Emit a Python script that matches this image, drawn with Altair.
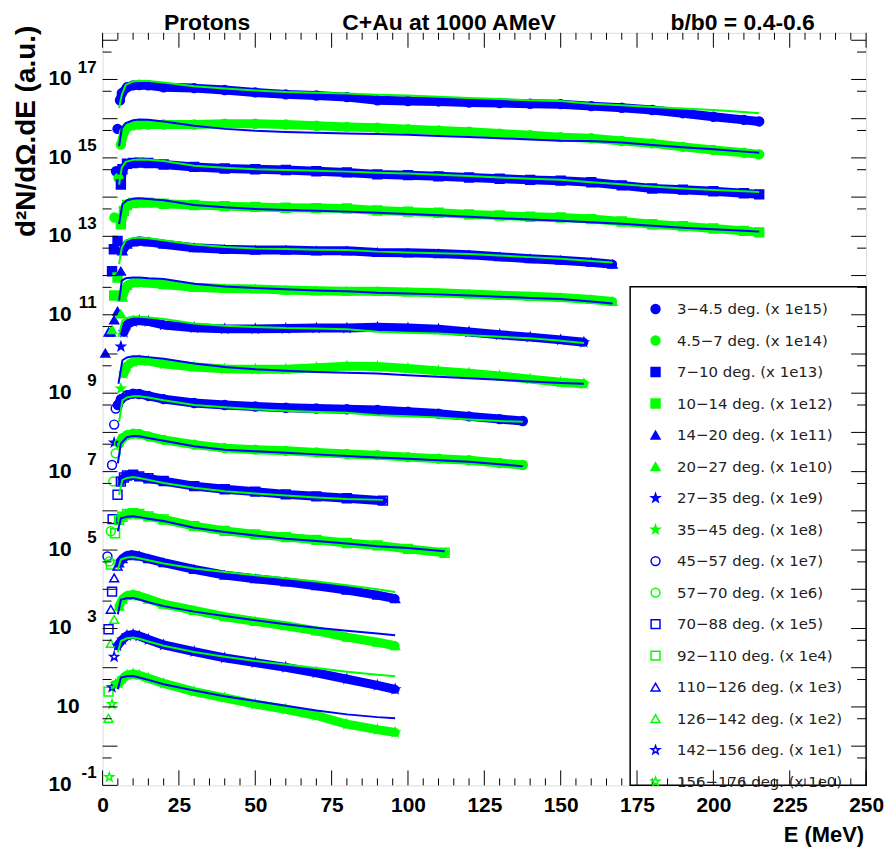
import altair as alt
import pandas as pd

LABELS = ["3−4.5 deg. (x 1e15)", "4.5−7 deg. (x 1e14)", "7−10 deg. (x 1e13)", "10−14 deg. (x 1e12)",
          "14−20 deg. (x 1e11)", "20−27 deg. (x 1e10)", "27−35 deg. (x 1e9)", "35−45 deg. (x 1e8)",
          "45−57 deg. (x 1e7)", "57−70 deg. (x 1e6)", "70−88 deg. (x 1e5)", "92−110 deg. (x 1e4)",
          "110−126 deg. (x 1e3)", "126−142 deg. (x 1e2)", "142−156 deg. (x 1e1)", "156−176 deg. (x 1e0)"]
BLUE = "#0000ff"
GREEN = "#00ff00"
STAR = ("M0,-1L0.235,-0.324L0.951,-0.309L0.38,0.124L0.588,0.809L0,0.4"
        "L-0.588,0.809L-0.38,0.124L-0.951,-0.309L-0.235,-0.324Z")
SHAPES = ["circle", "circle", "square", "square", "triangle-up", "triangle-up", STAR, STAR] * 2
COLORS = [BLUE, GREEN] * 8
FILLS = COLORS[:8] + ["transparent"] * 8

# ---- data (log10 of the scaled yield) ----
G_LONG = [10, 12, 15, 20, 30, 40, 50, 60, 70, 80, 90, 100, 110, 120, 130, 140, 150, 160, 170, 180, 190, 200, 210, 215]

S1_LOW_E = [4.4, 4.9]
S1_LOW_L = [14.66, 15.74]
S1_E = [5.7, 6.3, 8] + G_LONG
S1_L = [16.47, 16.65, 16.80, 16.85, 16.86, 16.85, 16.80, 16.78, 16.73, 16.67, 16.62, 16.59, 16.55, 16.47, 16.45,
        16.44, 16.41, 16.40, 16.38, 16.37, 16.32, 16.28, 16.22, 16.14, 16.05, 15.97, 15.93]
S1_ME = [5.4, 6.3, 7.6] + G_LONG
S1_ML = [16.27, 16.61, 16.86, 16.95, 16.97, 16.96, 16.92, 16.83, 16.77, 16.72, 16.68, 16.66, 16.64, 16.61, 16.59,
         16.56, 16.53, 16.50, 16.47, 16.45, 16.38, 16.34, 16.30, 16.26, 16.22, 16.17, 16.14]

S2_LOW_E = [3.9, 5.2]
S2_LOW_L = [13.48, 14.49]
S2_E = [6.0, 7, 8] + G_LONG
S2_L = [15.34, 15.65, 15.78, 15.83, 15.85, 15.85, 15.85, 15.85, 15.87, 15.87, 15.85, 15.82, 15.79, 15.77, 15.73,
        15.70, 15.67, 15.62, 15.58, 15.53, 15.50, 15.43, 15.37, 15.28, 15.20, 15.13, 15.09]
S2_ME = [5.4, 6.3, 7.6] + G_LONG
S2_ML = [15.30, 15.76, 15.89, 15.96, 15.98, 15.97, 15.93, 15.82, 15.74, 15.69, 15.66, 15.64, 15.62, 15.61, 15.59,
         15.56, 15.53, 15.50, 15.47, 15.44, 15.43, 15.39, 15.33, 15.27, 15.22, 15.16, 15.13]

S3_LOW_E = [3.1, 3.7, 4.9]
S3_LOW_L = [12.11, 12.67, 12.88]
S3_E = [6.0, 6.5, 8] + G_LONG
S3_L = [14.32, 14.71, 14.85, 14.87, 14.88, 14.87, 14.83, 14.77, 14.73, 14.71, 14.69, 14.66, 14.63, 14.58, 14.56,
        14.53, 14.50, 14.47, 14.44, 14.42, 14.38, 14.30, 14.22, 14.19, 14.15, 14.10, 14.07]
S3_ME = [5.4, 6.3, 7.6] + G_LONG
S3_ML = [14.32, 14.75, 14.90, 14.95, 14.96, 14.95, 14.92, 14.80, 14.75, 14.71, 14.69, 14.67, 14.65, 14.62, 14.60,
         14.57, 14.54, 14.50, 14.47, 14.44, 14.38, 14.33, 14.27, 14.22, 14.18, 14.15, 14.13]

S4_LOW_E = [3.8, 4.9]
S4_LOW_L = [11.49, 11.95]
S4_E = [6.0, 7, 8] + G_LONG
S4_L = [13.31, 13.65, 13.80, 13.85, 13.86, 13.86, 13.83, 13.80, 13.77, 13.75, 13.73, 13.72, 13.71, 13.66, 13.63,
        13.60, 13.56, 13.53, 13.50, 13.48, 13.44, 13.38, 13.31, 13.26, 13.20, 13.14, 13.10]
S4_ME = [5.4, 6.5, 8] + G_LONG
S4_ML = [13.31, 13.82, 13.92, 13.96, 13.97, 13.95, 13.92, 13.80, 13.74, 13.70, 13.67, 13.65, 13.63, 13.60, 13.57,
         13.54, 13.50, 13.46, 13.43, 13.40, 13.36, 13.32, 13.27, 13.22, 13.18, 13.14, 13.12]

G_MID = [10, 12, 15, 20, 30, 40, 50, 60, 70, 80, 90, 100, 110, 120, 130, 140, 150, 160, 167]

S5_LOW_E = [0.9, 2.0, 2.7, 3.8, 4.9, 6.0]
S5_LOW_L = [10.02, 10.56, 10.56, 10.87, 11.09, 12.11]
S5_E = [6.5, 8] + G_MID
S5_L = [12.63, 12.80, 12.86, 12.88, 12.86, 12.80, 12.71, 12.67, 12.65, 12.65, 12.63, 12.63, 12.59, 12.58, 12.56,
        12.53, 12.48, 12.43, 12.39, 12.34, 12.29]
S5_ME = [5.4, 6.3, 7.6] + G_MID
S5_ML = [12.29, 12.71, 12.90, 12.96, 12.97, 12.95, 12.90, 12.79, 12.73, 12.69, 12.68, 12.66, 12.65, 12.61, 12.59,
         12.57, 12.55, 12.51, 12.47, 12.43, 12.37, 12.33]

S6_LOW_E = [3.1, 6.0]
S6_LOW_L = [10.62, 11.02]
S6_E = [6.5, 8] + G_MID
S6_L = [11.45, 11.75, 11.82, 11.83, 11.81, 11.77, 11.70, 11.67, 11.66, 11.63, 11.61, 11.60, 11.60, 11.58, 11.56,
        11.53, 11.50, 11.47, 11.44, 11.39, 11.34]
S6_ME = [5.4, 6.3, 7.6] + G_MID
S6_ML = [11.36, 11.87, 11.93, 11.95, 11.95, 11.93, 11.91, 11.79, 11.72, 11.68, 11.65, 11.62, 11.60, 11.56, 11.54,
         11.52, 11.49, 11.46, 11.43, 11.40, 11.34, 11.29]

G_157 = [10, 12, 15, 20, 30, 40, 50, 60, 70, 80, 90, 100, 110, 120, 130, 140, 150, 157.6]

S7_LOW_E = [3.8, 6.0]
S7_LOW_L = [7.74, 10.19]
S7_E = [7, 8] + G_157
S7_L = [10.55, 10.75, 10.83, 10.85, 10.83, 10.74, 10.67, 10.64, 10.64, 10.65, 10.66, 10.66, 10.68, 10.66, 10.63,
        10.56, 10.49, 10.43, 10.36, 10.30]
S7_ME = [5.2, 6.5, 8] + G_157
S7_ML = [10.43, 10.85, 10.92, 10.95, 10.95, 10.93, 10.89, 10.78, 10.72, 10.69, 10.66, 10.65, 10.63, 10.57, 10.54,
         10.52, 10.48, 10.44, 10.40, 10.34, 10.28]

S8_LOW_E = [6.0]
S8_LOW_L = [9.12]
S8_E = [7, 8] + G_157
S8_L = [9.50, 9.70, 9.80, 9.84, 9.82, 9.75, 9.67, 9.62, 9.61, 9.61, 9.65, 9.69, 9.68, 9.63, 9.57, 9.51, 9.44,
        9.36, 9.28, 9.24]
S8_ME = [5.2, 6.5, 8] + G_157
S8_ML = [9.24, 9.84, 9.91, 9.94, 9.94, 9.92, 9.88, 9.76, 9.67, 9.61, 9.57, 9.54, 9.52, 9.50, 9.46, 9.42, 9.38,
         9.34, 9.30, 9.26, 9.24]

G_137 = [10, 12, 15, 20, 30, 40, 50, 60, 70, 80, 90, 100, 110, 120, 130, 137.6]

S9_LOW_E = [1.6, 3.1, 3.8, 4.3]
S9_LOW_L = [4.84, 7.17, 8.20, 8.61]
S9_E = [5, 6, 8] + G_137
S9_L = [8.70, 8.85, 8.95, 8.99, 8.98, 8.93, 8.85, 8.75, 8.70, 8.66, 8.63, 8.61, 8.59, 8.57, 8.53, 8.48, 8.41,
        8.34, 8.29]
S9_ME = [5.4, 6.5, 8] + G_137
S9_ML = [8.27, 8.82, 8.89, 8.92, 8.92, 8.89, 8.82, 8.70, 8.64, 8.59, 8.55, 8.52, 8.50, 8.44, 8.41, 8.38, 8.33,
         8.29, 8.27]

S10_LOW_E = [2.2, 2.7, 3.5, 4.3]
S10_LOW_L = [4.71, 5.48, 6.75, 7.47]
S10_E = [5.4, 6.5, 8] + G_137
S10_L = [7.72, 7.85, 7.93, 7.97, 7.96, 7.90, 7.81, 7.69, 7.60, 7.56, 7.53, 7.49, 7.45, 7.42, 7.37, 7.33, 7.29,
         7.22, 7.17]
S10_ME = [5.0, 6.0, 8] + G_137
S10_ML = [7.21, 7.72, 7.88, 7.91, 7.90, 7.86, 7.79, 7.65, 7.56, 7.52, 7.48, 7.44, 7.40, 7.36, 7.33, 7.29, 7.25,
          7.19, 7.14]

S11_LOW_E = [1.95, 3.1, 3.3, 4.9]
S11_LOW_L = [2.98, 3.94, 5.79, 6.41]
S11_E = [6.0, 7, 8, 10, 12, 15, 20, 30, 40, 50, 60, 70, 80, 91.8]
S11_L = [6.75, 6.85, 6.90, 6.92, 6.88, 6.83, 6.76, 6.63, 6.55, 6.49, 6.42, 6.37, 6.32, 6.26]
S11_ME = [5.4, 6.5, 8, 10, 12, 15, 20, 30, 40, 50, 60, 70, 80, 91.8]
S11_ML = [6.41, 6.79, 6.84, 6.86, 6.84, 6.79, 6.71, 6.59, 6.50, 6.44, 6.39, 6.34, 6.30, 6.28]

S12_LOW_E = [1.95, 2.7, 4.1]
S12_LOW_L = [1.39, 4.63, 5.43]
S12_E = [5.4, 6.5, 8, 10, 12, 15, 20, 30, 40, 50, 60, 70, 80, 90, 100, 112]
S12_L = [5.77, 5.85, 5.92, 5.94, 5.92, 5.86, 5.78, 5.61, 5.49, 5.40, 5.33, 5.26, 5.18, 5.12, 5.03, 4.93]
S12_ME = [5.0, 6.0, 8, 10, 12, 15, 20, 30, 40, 50, 60, 70, 80, 90, 100, 112]
S12_ML = [5.48, 5.81, 5.85, 5.86, 5.84, 5.80, 5.74, 5.57, 5.46, 5.37, 5.29, 5.23, 5.17, 5.10, 5.05, 4.97]

G_96 = [10, 12, 15, 20, 30, 40, 50, 60, 70, 80, 90, 95.8]

S13_LOW_E = [2.7, 3.8, 4.9]
S13_LOW_L = [3.49, 4.29, 4.59]
S13_E = [5.4, 6.5, 8, 9.5, 12, 15, 20, 30, 40, 50, 60, 70, 80, 90, 95.8]
S13_L = [4.67, 4.78, 4.86, 4.88, 4.85, 4.78, 4.68, 4.51, 4.36, 4.27, 4.19, 4.09, 3.98, 3.85, 3.76]
S13_ME = [5.0, 6.0, 8] + G_96
S13_ML = [4.50, 4.76, 4.81, 4.82, 4.79, 4.74, 4.66, 4.53, 4.44, 4.36, 4.28, 4.20, 4.10, 4.00, 3.93]

S14_LOW_E = [1.95, 2.7, 3.8]
S14_LOW_L = [0.71, 2.62, 3.23]
S14_E = [5.4, 6.5, 8] + G_96
S14_L = [3.57, 3.75, 3.84, 3.87, 3.83, 3.75, 3.62, 3.46, 3.30, 3.18, 3.07, 2.94, 2.78, 2.65, 2.56]
S14_ME = [5.0, 6.0, 8] + G_96
S14_ML = [3.36, 3.74, 3.77, 3.78, 3.74, 3.67, 3.57, 3.43, 3.32, 3.21, 3.11, 3.02, 2.94, 2.87, 2.83]

S15_LOW_E = [3.1, 3.8]
S15_LOW_L = [1.50, 2.28]
S15_E = [4.9, 6.5, 8] + G_96
S15_L = [2.56, 2.72, 2.82, 2.85, 2.81, 2.72, 2.58, 2.41, 2.25, 2.13, 2.01, 1.87, 1.71, 1.55, 1.45]
S15_ME = [5.0, 6.0, 8] + G_96
S15_ML = [2.39, 2.68, 2.75, 2.77, 2.74, 2.67, 2.56, 2.40, 2.28, 2.17, 2.08, 1.99, 1.90, 1.82, 1.78]

S16_LOW_E = [2.2, 3.1]
S16_LOW_L = [-0.79, 1.07]
S16_E = [4.3, 5.4, 6.5, 8] + G_96
S16_L = [1.58, 1.60, 1.72, 1.81, 1.84, 1.81, 1.73, 1.60, 1.39, 1.23, 1.07, 0.94, 0.78, 0.56, 0.42, 0.35]
S16_ME = [5.0, 6.0, 8] + G_96
S16_ML = [1.45, 1.75, 1.78, 1.79, 1.75, 1.69, 1.58, 1.42, 1.27, 1.15, 1.03, 0.91, 0.81, 0.74, 0.71]

SERIES = [
    (S1_LOW_E, S1_LOW_L, S1_E, S1_L, S1_ME, S1_ML),
    (S2_LOW_E, S2_LOW_L, S2_E, S2_L, S2_ME, S2_ML),
    (S3_LOW_E, S3_LOW_L, S3_E, S3_L, S3_ME, S3_ML),
    (S4_LOW_E, S4_LOW_L, S4_E, S4_L, S4_ME, S4_ML),
    (S5_LOW_E, S5_LOW_L, S5_E, S5_L, S5_ME, S5_ML),
    (S6_LOW_E, S6_LOW_L, S6_E, S6_L, S6_ME, S6_ML),
    (S7_LOW_E, S7_LOW_L, S7_E, S7_L, S7_ME, S7_ML),
    (S8_LOW_E, S8_LOW_L, S8_E, S8_L, S8_ME, S8_ML),
    (S9_LOW_E, S9_LOW_L, S9_E, S9_L, S9_ME, S9_ML),
    (S10_LOW_E, S10_LOW_L, S10_E, S10_L, S10_ME, S10_ML),
    (S11_LOW_E, S11_LOW_L, S11_E, S11_L, S11_ME, S11_ML),
    (S12_LOW_E, S12_LOW_L, S12_E, S12_L, S12_ME, S12_ML),
    (S13_LOW_E, S13_LOW_L, S13_E, S13_L, S13_ME, S13_ML),
    (S14_LOW_E, S14_LOW_L, S14_E, S14_L, S14_ME, S14_ML),
    (S15_LOW_E, S15_LOW_L, S15_E, S15_L, S15_ME, S15_ML),
    (S16_LOW_E, S16_LOW_L, S16_E, S16_L, S16_ME, S16_ML),
]

# axis decorations
X_MAJOR = [0, 25, 50, 75, 100, 125, 150, 175, 200, 225, 250]
X_MINOR = [v for v in range(0, 251, 5) if v % 25 != 0]
Y_MAJOR = [10.0 ** k for k in range(-1, 19)]
Y_MINOR = [5 * 10.0 ** k for k in range(-1, 18)]
Y_LABEL_EXP = [-1, 3, 5, 7, 9, 11, 13, 15, 17]

# ---- tables ----
pts, band, model = [], [], []
for i, (le, ll, e, l, me, ml) in enumerate(SERIES):
    lab = LABELS[i]
    col = COLORS[i]
    other = GREEN if col == BLUE else BLUE
    for a, b in zip(le, ll):
        pts.append({"label": lab, "E": a, "Y": 10 ** b})
    for a, b in zip(e, l):
        pts.append({"label": lab, "E": a, "Y": 10 ** b})
        band.append({"label": lab, "col": col, "E": a, "Y": 10 ** b})
    for a, b in zip(me, ml):
        model.append({"label": lab, "col": other, "E": a, "Y": 10 ** b})
pts_df = pd.DataFrame(pts)
band_df = pd.DataFrame(band)
model_df = pd.DataFrame(model)

W, H = 767, 756
FONT = "Liberation Sans"
xscale = alt.Scale(domain=[0, 250], nice=False, zero=False)
yscale = alt.Scale(type="log", domain=[0.1, 10 ** 18.19], nice=False)
xaxis = alt.Axis(values=X_MAJOR, ticks=False, domain=False, grid=False, labelFont=FONT,
                 labelFontSize=21, labelFontWeight="bold", labelColor="black", labelPadding=9,
                 labelFlush=False, title=None)
X = alt.X("E:Q", scale=xscale, axis=xaxis)
Y = alt.Y("Y:Q", scale=yscale, axis=None)

leg = alt.Legend(orient="none", legendX=548, legendY=270, title=None, labelFont="DejaVu Sans",
                 labelFontSize=15, labelColor="#222222", rowPadding=15.65, padding=0, symbolSize=80,
                 symbolStrokeWidth=1.5, labelOffset=14, labelLimit=400)

band_layer = alt.Chart(band_df).mark_line(strokeWidth=9, strokeCap="round", strokeJoin="round").encode(
    x=X, y=Y, color=alt.Color("col:N", scale=None), detail="label:N")

point_layer = alt.Chart(pts_df).mark_point(size=80, strokeWidth=1.5, opacity=1).encode(
    x=X, y=Y,
    shape=alt.Shape("label:N", scale=alt.Scale(domain=LABELS, range=SHAPES), legend=leg),
    stroke=alt.Stroke("label:N", scale=alt.Scale(domain=LABELS, range=COLORS), legend=leg),
    fill=alt.Fill("label:N", scale=alt.Scale(domain=LABELS, range=FILLS), legend=leg),
)

model_layer = alt.Chart(model_df).mark_line(strokeWidth=2).encode(
    x=X, y=Y, color=alt.Color("col:N", scale=None), detail="label:N")

one = pd.DataFrame({"a": [0]})
legend_box = alt.Chart(one).mark_rect(fill="white", stroke="black", strokeWidth=1.5).encode(
    x=alt.value(530), x2=alt.value(W), y=alt.value(255), y2=alt.value(H))

TICK = dict(color="black", strokeWidth=1)
ymaj = pd.DataFrame({"Y": Y_MAJOR})
ymin = pd.DataFrame({"Y": Y_MINOR})
xmaj = pd.DataFrame({"E": X_MAJOR})
xmin = pd.DataFrame({"E": X_MINOR})
ticks = [
    alt.Chart(ymaj).mark_rule(**TICK).encode(y=Y, x=alt.value(0), x2=alt.value(15)),
    alt.Chart(ymin).mark_rule(**TICK).encode(y=Y, x=alt.value(0), x2=alt.value(9)),
    alt.Chart(ymaj).mark_rule(**TICK).encode(y=Y, x=alt.value(W - 15), x2=alt.value(W)),
    alt.Chart(ymin).mark_rule(**TICK).encode(y=Y, x=alt.value(W - 9), x2=alt.value(W)),
    alt.Chart(xmaj).mark_rule(**TICK).encode(x=X, y=alt.value(H - 15), y2=alt.value(H)),
    alt.Chart(xmin).mark_rule(**TICK).encode(x=X, y=alt.value(H - 7), y2=alt.value(H)),
    alt.Chart(xmaj).mark_rule(**TICK).encode(x=X, y=alt.value(0), y2=alt.value(15)),
    alt.Chart(xmin).mark_rule(**TICK).encode(x=X, y=alt.value(0), y2=alt.value(7)),
]

exp_df = pd.DataFrame({"Y": [10.0 ** e for e in Y_LABEL_EXP], "t": [str(e) for e in Y_LABEL_EXP]})
ten_df = pd.DataFrame({"Y": [10.0]})
ylabels = [
    alt.Chart(exp_df).mark_text(text="10", align="right", baseline="middle", font=FONT, fontSize=21,
                                fontWeight="bold", color="black").encode(y=Y, x=alt.value(-31)),
    alt.Chart(exp_df).mark_text(align="right", baseline="middle", font=FONT, fontSize=17, dy=-12,
                                fontWeight="bold", color="black").encode(y=Y, x=alt.value(-6), text="t:N"),
    alt.Chart(ten_df).mark_text(text="10", align="right", baseline="middle", font=FONT, fontSize=21,
                                fontWeight="bold", color="black").encode(y=Y, x=alt.value(-23)),
]

def label(txt, x, y, size, align="center", angle=0):
    kw = dict(text=txt, align=align, baseline="middle", font=FONT, fontSize=size, fontWeight="bold",
              color="black")
    if angle:
        kw["angle"] = angle
    return alt.Chart(one).mark_text(**kw).encode(x=alt.value(x), y=alt.value(y))

titles = [
    label("Protons", 105, -10, 23),
    label("C+Au at 1000 AMeV", 348, -10, 23),
    label("b/b0 = 0.4-0.6", 643, -10, 23),
    label("E (MeV)", 765, 806, 22, align="right"),
    label("d²N/dΩ.dE (a.u.)", -76, -7, 28, align="right", angle=270),
]

chart = alt.layer(band_layer, point_layer, model_layer, legend_box, *ticks, *ylabels, *titles).properties(
    width=W, height=H,
    autosize=alt.AutoSizeParams(type="none"),
    padding={"left": 95, "top": 23, "right": 18, "bottom": 60},
).configure_view(stroke="black", strokeWidth=2).configure(background="white")

chart.save("out.html", embed_options={"renderer": "svg", "actions": False})
